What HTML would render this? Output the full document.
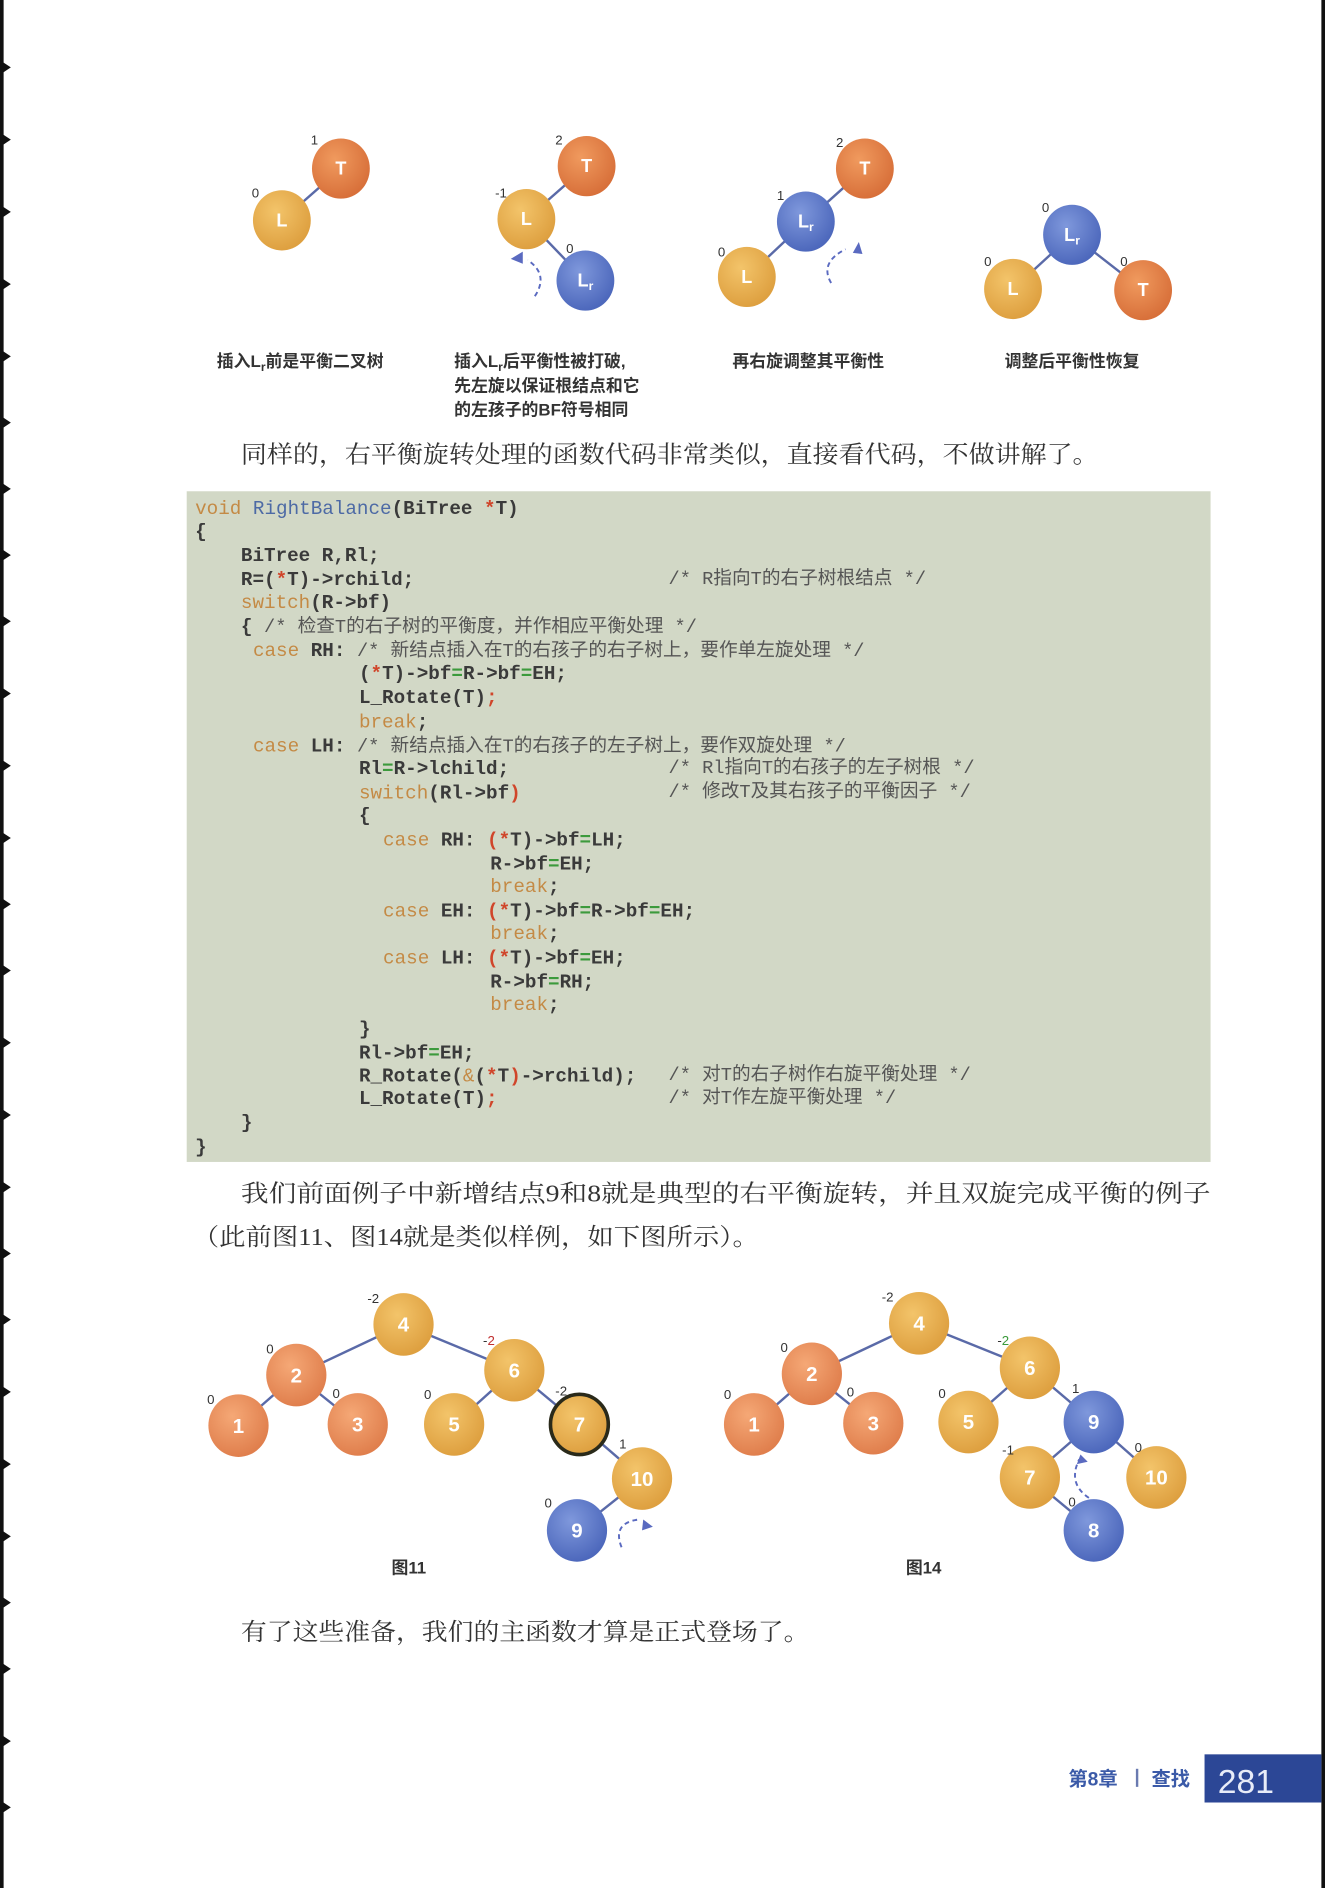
<!DOCTYPE html>
<html><head><meta charset="utf-8"><style>
html,body{margin:0;padding:0;background:#fff;}
svg{display:block;}
.cap{font-family:"Liberation Sans","Noto Sans CJK SC",sans-serif;font-size:14px;font-weight:bold;fill:#333;}
.bf{font-family:"Liberation Sans",sans-serif;font-size:11px;fill:#333;}
.nd{font-family:"Liberation Sans",sans-serif;font-weight:bold;fill:#fff;text-anchor:middle;}
.body{font-family:"Liberation Serif","Noto Serif CJK SC",serif;font-size:20px;fill:#333;}
.code{font-family:"Liberation Mono","Noto Sans CJK SC",monospace;font-size:16px;font-weight:bold;fill:#3a3a3a;white-space:pre;}
.cm{font-family:"Liberation Mono","Noto Sans CJK SC",monospace;font-size:15.5px;fill:#555;font-weight:normal;}
.k{fill:#c48a45;font-weight:normal;}
.f{fill:#4d6aa5;font-weight:normal;}
.r{fill:#d0452a;}
.g{fill:#3c9a3c;}
</style></head><body>
<svg width="1325" height="1888" viewBox="0 0 1100 1568" preserveAspectRatio="none" xmlns="http://www.w3.org/2000/svg">
<defs>
<radialGradient id="go" cx="40%" cy="35%" r="65%"><stop offset="0" stop-color="#f09a5e"/><stop offset="1" stop-color="#d8703a"/></radialGradient>
<radialGradient id="gy" cx="40%" cy="35%" r="65%"><stop offset="0" stop-color="#f3c46a"/><stop offset="1" stop-color="#dea040"/></radialGradient>
<radialGradient id="gb" cx="40%" cy="35%" r="65%"><stop offset="0" stop-color="#7f98dc"/><stop offset="1" stop-color="#4d68bc"/></radialGradient>
<radialGradient id="gl" cx="40%" cy="35%" r="65%"><stop offset="0" stop-color="#f5a876"/><stop offset="1" stop-color="#e07f4d"/></radialGradient>
</defs>
<rect x="0" y="0" width="1100" height="1568" fill="#fff"/>
<rect x="0" y="0" width="3" height="1568" fill="#111"/>
<rect x="1097" y="0" width="3" height="1568" fill="#111"/>
<g fill="#111">
<path d="M0,50 l9,6 l-9,6z"/><path d="M0,110 l9,6 l-9,6z"/><path d="M0,170 l9,6 l-9,6z"/><path d="M0,230 l9,6 l-9,6z"/><path d="M0,290 l9,6 l-9,6z"/><path d="M0,345 l9,6 l-9,6z"/><path d="M0,400 l9,6 l-9,6z"/><path d="M0,455 l9,6 l-9,6z"/><path d="M0,510 l9,6 l-9,6z"/><path d="M0,570 l9,6 l-9,6z"/><path d="M0,630 l9,6 l-9,6z"/><path d="M0,690 l9,6 l-9,6z"/><path d="M0,745 l9,6 l-9,6z"/><path d="M0,800 l9,6 l-9,6z"/><path d="M0,860 l9,6 l-9,6z"/><path d="M0,920 l9,6 l-9,6z"/><path d="M0,980 l9,6 l-9,6z"/><path d="M0,1035 l9,6 l-9,6z"/><path d="M0,1090 l9,6 l-9,6z"/><path d="M0,1150 l9,6 l-9,6z"/><path d="M0,1210 l9,6 l-9,6z"/><path d="M0,1270 l9,6 l-9,6z"/><path d="M0,1325 l9,6 l-9,6z"/><path d="M0,1380 l9,6 l-9,6z"/><path d="M0,1440 l9,6 l-9,6z"/><path d="M0,1495 l9,6 l-9,6z"/>
</g>

<!-- top trees -->
<g stroke="#5a6aa8" stroke-width="2">
<line x1="283" y1="140" x2="234" y2="183"/>
<line x1="487" y1="138" x2="437" y2="182"/><line x1="437" y1="182" x2="486" y2="233"/>
<line x1="718" y1="140" x2="669" y2="184"/><line x1="669" y1="184" x2="620" y2="230"/>
<line x1="890" y1="195" x2="841" y2="240"/><line x1="890" y1="195" x2="949" y2="241"/>
</g>
<g>
<ellipse cx="283" cy="140" rx="24" ry="25" fill="url(#go)"/><ellipse cx="234" cy="183" rx="24" ry="25" fill="url(#gy)"/>
<ellipse cx="487" cy="138" rx="24" ry="25" fill="url(#go)"/><ellipse cx="437" cy="182" rx="24" ry="25" fill="url(#gy)"/><ellipse cx="486" cy="233" rx="24" ry="25" fill="url(#gb)"/>
<ellipse cx="718" cy="140" rx="24" ry="25" fill="url(#go)"/><ellipse cx="669" cy="184" rx="24" ry="25" fill="url(#gb)"/><ellipse cx="620" cy="230" rx="24" ry="25" fill="url(#gy)"/>
<ellipse cx="890" cy="195" rx="24" ry="25" fill="url(#gb)"/><ellipse cx="841" cy="240" rx="24" ry="25" fill="url(#gy)"/><ellipse cx="949" cy="241" rx="24" ry="25" fill="url(#go)"/>
</g>
<g class="nd" font-size="15">
<text x="283" y="145">T</text><text x="234" y="188">L</text>
<text x="487" y="143">T</text><text x="437" y="187">L</text><text x="486" y="238">L<tspan font-size="10" dy="3">r</tspan></text>
<text x="718" y="145">T</text><text x="669" y="189">L<tspan font-size="10" dy="3">r</tspan></text><text x="620" y="235">L</text>
<text x="890" y="200">L<tspan font-size="10" dy="3">r</tspan></text><text x="841" y="245">L</text><text x="949" y="246">T</text>
</g>
<g class="bf">
<text x="258" y="120">1</text><text x="209" y="164">0</text>
<text x="461" y="120">2</text><text x="411" y="164">-1</text><text x="470" y="210">0</text>
<text x="694" y="122">2</text><text x="645" y="166">1</text><text x="596" y="213">0</text>
<text x="865" y="176">0</text><text x="817" y="221">0</text><text x="930" y="221">0</text>
</g>
<g fill="none" stroke="#5a6ac0" stroke-width="1.6" stroke-dasharray="4,3">
<path d="M444,246 Q456,228 438,216"/>
<path d="M690,235 Q680,218 702,207"/>
</g>
<path d="M424,215 l10,-6 l0,10z" fill="#5a6ac0"/>
<path d="M708,210 l5,-9 l3,10z" fill="#5a6ac0"/>
<g class="cap">
<text x="180" y="305">插入L<tspan font-size="10" dy="3">r</tspan><tspan dy="-3">前是平衡二叉树</tspan></text>
<text x="377" y="305">插入L<tspan font-size="10" dy="3">r</tspan><tspan dy="-3">后平衡性被打破,</tspan></text>
<text x="377" y="325">先左旋以保证根结点和它</text>
<text x="377" y="345">的左孩子的BF符号相同</text>
<text x="608" y="305">再右旋调整其平衡性</text>
<text x="834" y="305">调整后平衡性恢复</text>
</g>
<text class="body" x="200" y="384" textLength="712" lengthAdjust="spacingAndGlyphs">同样的，右平衡旋转处理的函数代码非常类似，直接看代码，不做讲解了。</text>

<!-- code -->
<rect x="155" y="408" width="850" height="557" fill="#d2d8c6"/>
<g class="code">
<text x="162" y="427"><tspan class="k">void</tspan> <tspan class="f">RightBalance</tspan>(BiTree <tspan class="r">*</tspan>T)</text>
<text x="162" y="446">{</text>
<text x="200" y="466">BiTree R,Rl;</text>
<text x="200" y="486">R=(<tspan class="r">*</tspan>T)-&gt;rchild;</text>
<text x="200" y="505"><tspan class="k">switch</tspan>(R-&gt;bf)</text>
<text x="200" y="525">{ <tspan class="cm">/* 检查T的右子树的平衡度，并作相应平衡处理 */</tspan></text>
<text x="210" y="545"><tspan class="k">case</tspan> RH: <tspan class="cm">/* 新结点插入在T的右孩子的右子树上，要作单左旋处理 */</tspan></text>
<text x="298" y="564">(<tspan class="r">*</tspan>T)-&gt;bf<tspan class="g">=</tspan>R-&gt;bf<tspan class="g">=</tspan>EH;</text>
<text x="298" y="584">L_Rotate(T)<tspan class="r">;</tspan></text>
<text x="298" y="604"><tspan class="k">break</tspan>;</text>
<text x="210" y="624"><tspan class="k">case</tspan> LH: <tspan class="cm">/* 新结点插入在T的右孩子的左子树上，要作双旋处理 */</tspan></text>
<text x="298" y="643">Rl<tspan class="g">=</tspan>R-&gt;lchild;</text>
<text x="298" y="663"><tspan class="k">switch</tspan>(Rl-&gt;bf<tspan class="r">)</tspan></text>
<text x="298" y="682">{</text>
<text x="318" y="702"><tspan class="k">case</tspan> RH: <tspan class="r">(</tspan><tspan class="r">*</tspan>T)-&gt;bf<tspan class="g">=</tspan>LH;</text>
<text x="407" y="722">R-&gt;bf<tspan class="g">=</tspan>EH;</text>
<text x="407" y="741"><tspan class="k">break</tspan>;</text>
<text x="318" y="761"><tspan class="k">case</tspan> EH: <tspan class="r">(*</tspan>T)-&gt;bf<tspan class="g">=</tspan>R-&gt;bf<tspan class="g">=</tspan>EH;</text>
<text x="407" y="780"><tspan class="k">break</tspan>;</text>
<text x="318" y="800"><tspan class="k">case</tspan> LH: <tspan class="r">(*</tspan>T)-&gt;bf<tspan class="g">=</tspan>EH;</text>
<text x="407" y="820">R-&gt;bf<tspan class="g">=</tspan>RH;</text>
<text x="407" y="839"><tspan class="k">break</tspan>;</text>
<text x="298" y="859">}</text>
<text x="298" y="879">Rl-&gt;bf<tspan class="g">=</tspan>EH;</text>
<text x="298" y="898">R_Rotate(<tspan class="k">&amp;</tspan>(<tspan class="r">*</tspan>T<tspan class="r">)</tspan>-&gt;rchild);</text>
<text x="298" y="917">L_Rotate(T)<tspan class="r">;</tspan></text>
<text x="200" y="937">}</text>
<text x="162" y="957">}</text>
</g>
<g class="cm">
<text x="555" y="485">/* R指向T的右子树根结点 */</text>
<text x="555" y="642">/* Rl指向T的右孩子的左子树根 */</text>
<text x="555" y="662">/* 修改T及其右孩子的平衡因子 */</text>
<text x="555" y="897">/* 对T的右子树作右旋平衡处理 */</text>
<text x="555" y="916">/* 对T作左旋平衡处理 */</text>
</g>

<text class="body" x="200" y="998" textLength="805" lengthAdjust="spacingAndGlyphs">我们前面例子中新增结点9和8就是典型的右平衡旋转，并且双旋完成平衡的例子</text>
<text class="body" x="160" y="1034" textLength="470" lengthAdjust="spacingAndGlyphs">（此前图11、图14就是类似样例，如下图所示）。</text>

<!-- bottom trees -->
<g stroke="#5a6aa8" stroke-width="2">
<line x1="335" y1="1100" x2="246" y2="1142"/><line x1="335" y1="1100" x2="427" y2="1138"/>
<line x1="246" y1="1142" x2="198" y2="1184"/><line x1="246" y1="1142" x2="297" y2="1183"/>
<line x1="427" y1="1138" x2="377" y2="1183"/><line x1="427" y1="1138" x2="481" y2="1183"/>
<line x1="481" y1="1183" x2="533" y2="1228"/><line x1="533" y1="1228" x2="479" y2="1271"/>
<line x1="763" y1="1099" x2="674" y2="1141"/><line x1="763" y1="1099" x2="855" y2="1136"/>
<line x1="674" y1="1141" x2="626" y2="1183"/><line x1="674" y1="1141" x2="725" y2="1182"/>
<line x1="855" y1="1136" x2="804" y2="1181"/><line x1="855" y1="1136" x2="908" y2="1181"/>
<line x1="908" y1="1181" x2="855" y2="1227"/><line x1="908" y1="1181" x2="960" y2="1227"/>
<line x1="855" y1="1227" x2="908" y2="1271"/>
</g>
<g>
<ellipse cx="335" cy="1100" rx="25" ry="26" fill="url(#gy)"/>
<ellipse cx="246" cy="1142" rx="25" ry="26" fill="url(#gl)"/>
<ellipse cx="427" cy="1138" rx="25" ry="26" fill="url(#gy)"/>
<ellipse cx="198" cy="1184" rx="25" ry="26" fill="url(#gl)"/>
<ellipse cx="297" cy="1183" rx="25" ry="26" fill="url(#gl)"/>
<ellipse cx="377" cy="1183" rx="25" ry="26" fill="url(#gy)"/>
<ellipse cx="481" cy="1183" rx="24" ry="25" fill="url(#gy)" stroke="#2a2a1a" stroke-width="3"/>
<ellipse cx="533" cy="1228" rx="25" ry="26" fill="url(#gy)"/>
<ellipse cx="479" cy="1271" rx="25" ry="26" fill="url(#gb)"/>
<ellipse cx="763" cy="1099" rx="25" ry="26" fill="url(#gy)"/>
<ellipse cx="674" cy="1141" rx="25" ry="26" fill="url(#gl)"/>
<ellipse cx="855" cy="1136" rx="25" ry="26" fill="url(#gy)"/>
<ellipse cx="626" cy="1183" rx="25" ry="26" fill="url(#gl)"/>
<ellipse cx="725" cy="1182" rx="25" ry="26" fill="url(#gl)"/>
<ellipse cx="804" cy="1181" rx="25" ry="26" fill="url(#gy)"/>
<ellipse cx="908" cy="1181" rx="25" ry="26" fill="url(#gb)"/>
<ellipse cx="855" cy="1227" rx="25" ry="26" fill="url(#gy)"/>
<ellipse cx="960" cy="1227" rx="25" ry="26" fill="url(#gy)"/>
<ellipse cx="908" cy="1271" rx="25" ry="26" fill="url(#gb)"/>
</g>
<g class="nd" font-size="17">
<text x="335" y="1106">4</text><text x="246" y="1148">2</text><text x="427" y="1144">6</text>
<text x="198" y="1190">1</text><text x="297" y="1189">3</text><text x="377" y="1189">5</text>
<text x="481" y="1189">7</text><text x="533" y="1234">10</text><text x="479" y="1277">9</text>
<text x="763" y="1105">4</text><text x="674" y="1147">2</text><text x="855" y="1142">6</text>
<text x="626" y="1189">1</text><text x="725" y="1188">3</text><text x="804" y="1187">5</text>
<text x="908" y="1187">9</text><text x="855" y="1233">7</text><text x="960" y="1233">10</text><text x="908" y="1277">8</text>
</g>
<g class="bf">
<text x="305" y="1082">-2</text><text x="221" y="1124">0</text><text x="401" y="1117"><tspan>-</tspan><tspan fill="#c03030">2</tspan></text>
<text x="172" y="1166">0</text><text x="276" y="1161">0</text><text x="352" y="1162">0</text>
<text x="461" y="1159">-2</text><text x="514" y="1203">1</text><text x="452" y="1252">0</text>
<text x="732" y="1081">-2</text><text x="648" y="1123">0</text><text x="828" y="1117"><tspan>-</tspan><tspan fill="#3a9a3a">2</tspan></text>
<text x="601" y="1162">0</text><text x="703" y="1160">0</text><text x="779" y="1161">0</text>
<text x="890" y="1157">1</text><text x="832" y="1208">-1</text><text x="942" y="1206">0</text><text x="887" y="1251">0</text>
</g>
<g fill="none" stroke="#5a6ac0" stroke-width="1.6" stroke-dasharray="4,3">
<path d="M516,1285 Q508,1265 530,1262"/>
<path d="M904,1244 Q886,1232 896,1212"/>
</g>
<path d="M534,1262 l8,6 l-9,3z" fill="#5a6ac0"/>
<path d="M897,1208 l6,6 l-9,2z" fill="#5a6ac0"/>
<text class="cap" x="325" y="1307" font-weight="normal" font-size="15">图11</text>
<text class="cap" x="752" y="1307" font-weight="normal" font-size="15">图14</text>

<text class="body" x="200" y="1362" textLength="472" lengthAdjust="spacingAndGlyphs">有了这些准备，我们的主函数才算是正式登场了。</text>

<text x="887" y="1483" font-family="Liberation Sans,'Noto Sans CJK SC',sans-serif" font-size="16" font-weight="bold" fill="#3b5aa8">第8章</text>
<rect x="943" y="1469" width="2" height="15" fill="#6a7ab0"/>
<text x="956" y="1483" font-family="Liberation Sans,'Noto Sans CJK SC',sans-serif" font-size="16" font-weight="bold" fill="#3b5aa8">查找</text>
<rect x="1000" y="1457" width="97" height="40" fill="#2c4796"/>
<text x="1011" y="1489" font-family="Liberation Sans,sans-serif" font-size="28" fill="#e8ecf8">281</text>
</svg>
</body></html>
